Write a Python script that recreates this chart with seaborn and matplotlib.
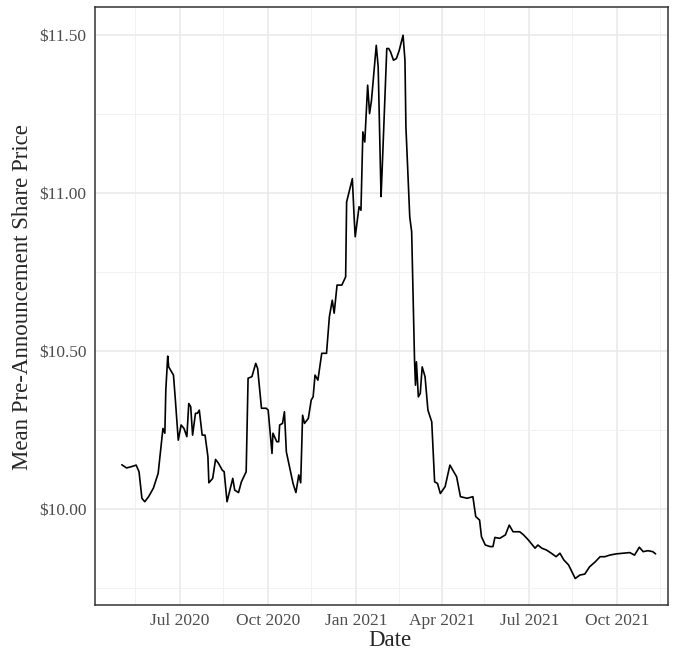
import pandas as pd
import matplotlib
matplotlib.use("Agg")
import matplotlib.pyplot as plt
import matplotlib.dates as mdates
from matplotlib.ticker import FuncFormatter, MultipleLocator
import seaborn as sns

# mean pre-announcement share price
dates = [
    "2020-05-01", "2020-05-06", "2020-05-11", "2020-05-16", "2020-05-19", "2020-05-22",
    "2020-05-25", "2020-05-29", "2020-06-03", "2020-06-08", "2020-06-11", "2020-06-13",
    "2020-06-15", "2020-06-16", "2020-06-18", "2020-06-19", "2020-06-22", "2020-06-24",
    "2020-06-26", "2020-06-29", "2020-07-02", "2020-07-05", "2020-07-08", "2020-07-10",
    "2020-07-12", "2020-07-14", "2020-07-17", "2020-07-19", "2020-07-21", "2020-07-24",
    "2020-07-27", "2020-07-30", "2020-07-31", "2020-08-04", "2020-08-07", "2020-08-10",
    "2020-08-14", "2020-08-16", "2020-08-19", "2020-08-22", "2020-08-25", "2020-08-27",
    "2020-08-31", "2020-09-03", "2020-09-08", "2020-09-10", "2020-09-14", "2020-09-18",
    "2020-09-20", "2020-09-24", "2020-09-29", "2020-10-01", "2020-10-05", "2020-10-06",
    "2020-10-10", "2020-10-12", "2020-10-13", "2020-10-16", "2020-10-18", "2020-10-20",
    "2020-10-24", "2020-10-27", "2020-10-30", "2020-11-02", "2020-11-04", "2020-11-06",
    "2020-11-08", "2020-11-12", "2020-11-15", "2020-11-17", "2020-11-19", "2020-11-22",
    "2020-11-26", "2020-12-01", "2020-12-04", "2020-12-07", "2020-12-09", "2020-12-12",
    "2020-12-17", "2020-12-21", "2020-12-22", "2020-12-28", "2020-12-30", "2020-12-31",
    "2021-01-04", "2021-01-06", "2021-01-08", "2021-01-10", "2021-01-13", "2021-01-15",
    "2021-01-17", "2021-01-22", "2021-01-24", "2021-01-27", "2021-01-28", "2021-02-02",
    "2021-02-04", "2021-02-06", "2021-02-09", "2021-02-12", "2021-02-15", "2021-02-19",
    "2021-02-21", "2021-02-22", "2021-02-26", "2021-02-28", "2021-03-03", "2021-03-04",
    "2021-03-05", "2021-03-07", "2021-03-09", "2021-03-11", "2021-03-14", "2021-03-17",
    "2021-03-21", "2021-03-24", "2021-03-27", "2021-03-30", "2021-04-04", "2021-04-09",
    "2021-04-12", "2021-04-16", "2021-04-20", "2021-04-27", "2021-05-03", "2021-05-06",
    "2021-05-10", "2021-05-12", "2021-05-16", "2021-05-21", "2021-05-24", "2021-05-26",
    "2021-05-31", "2021-06-06", "2021-06-10", "2021-06-14", "2021-06-21", "2021-06-25",
    "2021-06-30", "2021-07-07", "2021-07-10", "2021-07-14", "2021-07-19", "2021-07-24",
    "2021-07-29", "2021-08-02", "2021-08-06", "2021-08-11", "2021-08-18", "2021-08-23",
    "2021-08-28", "2021-09-02", "2021-09-08", "2021-09-13", "2021-09-18", "2021-09-23",
    "2021-09-30", "2021-10-07", "2021-10-14", "2021-10-19", "2021-10-24", "2021-10-28",
    "2021-11-02", "2021-11-07", "2021-11-10",
]
prices = [
    10.14, 10.13, 10.134, 10.139, 10.118, 10.034,
    10.023, 10.039, 10.066, 10.113, 10.197, 10.255,
    10.24, 10.377, 10.484, 10.45, 10.434, 10.424,
    10.345, 10.218, 10.266, 10.255, 10.229, 10.334,
    10.324, 10.234, 10.303, 10.303, 10.313, 10.234,
    10.234, 10.166, 10.083, 10.097, 10.157, 10.145,
    10.123, 10.118, 10.023, 10.06, 10.097, 10.06,
    10.052, 10.086, 10.118, 10.414, 10.419, 10.461,
    10.445, 10.319, 10.319, 10.313, 10.176, 10.24,
    10.213, 10.213, 10.266, 10.271, 10.308, 10.181,
    10.123, 10.081, 10.052, 10.108, 10.083, 10.297,
    10.271, 10.287, 10.345, 10.355, 10.424, 10.408,
    10.493, 10.493, 10.609, 10.661, 10.62, 10.709,
    10.709, 10.735, 10.972, 11.046, 10.915, 10.862,
    10.957, 10.946, 11.194, 11.162, 11.342, 11.252,
    11.294, 11.468, 11.40, 10.989, 11.062, 11.458,
    11.458, 11.447, 11.421, 11.426, 11.452, 11.50,
    11.421, 11.21, 10.925, 10.878, 10.472, 10.392,
    10.466, 10.355, 10.366, 10.45, 10.419, 10.313,
    10.276, 10.086, 10.081, 10.049, 10.071, 10.139,
    10.123, 10.102, 10.039, 10.034, 10.039, 9.976,
    9.965, 9.912, 9.886, 9.881, 9.881, 9.91,
    9.907, 9.918, 9.949, 9.928, 9.928, 9.918,
    9.902, 9.876, 9.886, 9.876, 9.87, 9.86,
    9.849, 9.86, 9.839, 9.823, 9.78, 9.791,
    9.794, 9.817, 9.833, 9.849, 9.849, 9.854,
    9.858, 9.86, 9.862, 9.854, 9.879, 9.865,
    9.868, 9.865, 9.858,
]

x_limits = ["2020-04-03", "2021-11-23"]
y_limits = [9.696, 11.589]
y_ticks = [10.0, 10.5, 11.0, 11.5]

df = pd.DataFrame({"Date": pd.to_datetime(dates), "Price": prices})

sns.set_style("whitegrid")
plt.rcParams["font.family"] = ["Liberation Serif", "DejaVu Serif"]

fig = plt.figure(figsize=(6.73, 6.5), dpi=100)
ax = fig.add_axes([0.1412, 0.0692, 0.8514, 0.9198])

sns.lineplot(data=df, x="Date", y="Price", color="black", linewidth=1.2, ax=ax)

ax.set_xlim(pd.to_datetime(x_limits[0]), pd.to_datetime(x_limits[1]))
ax.set_ylim(*y_limits)

# ggplot-like breaks: quarters for major, mid-quarter for minor
ax.xaxis.set_major_locator(mdates.MonthLocator(bymonth=[1, 4, 7, 10]))
ax.xaxis.set_major_formatter(mdates.DateFormatter("%b %Y"))
ax.xaxis.set_minor_locator(mdates.MonthLocator(bymonth=[2, 5, 8, 11], bymonthday=15))
ax.set_yticks(y_ticks)
ax.yaxis.set_minor_locator(MultipleLocator(0.25))
ax.yaxis.set_major_formatter(FuncFormatter(lambda v, _: f"${v:.2f}"))

ax.grid(which="major", color="#E8E8E8", linewidth=1.1)
ax.grid(which="minor", color="#F0F0F0", linewidth=0.6)
ax.set_axisbelow(True)

for s in ax.spines.values():
    s.set_visible(True)
    s.set_color("#333333")
    s.set_linewidth(1.1)

ax.tick_params(axis="both", which="major", length=3, width=0.8, color="#333333",
               labelsize=12.5, labelcolor="#4D4D4D", pad=3)
ax.tick_params(axis="both", which="minor", length=0)

ax.set_xlabel("Date", fontsize=16.5)
ax.set_ylabel("Mean Pre-Announcement Share Price", fontsize=16.5)
ax.xaxis.set_label_coords(0.515, -0.041)
ax.yaxis.set_label_coords(-0.108, 0.515)

fig.savefig("out.png", dpi=100)
